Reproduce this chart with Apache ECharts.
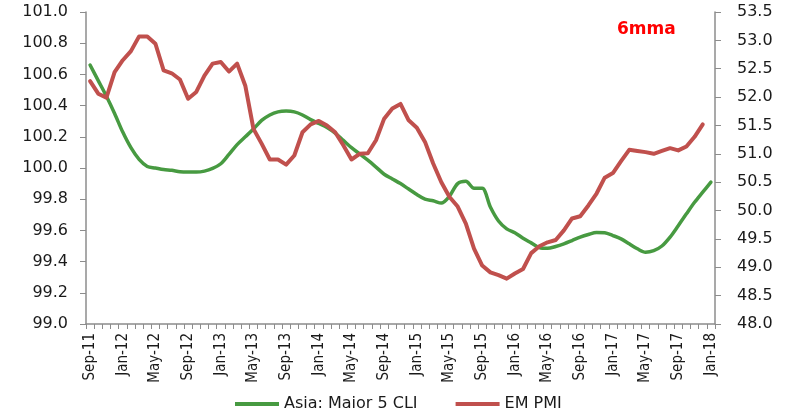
<!DOCTYPE html>
<html>
<head>
<meta charset="utf-8">
<script src="https://cdn.jsdelivr.net/npm/echarts@6/dist/echarts.min.js"></script>
<style>
html, body { margin: 0; padding: 0; background: #fff; }
#main { width: 788px; height: 408px; }
</style>
</head>
<body>
<div id="main"></div>
<script>
// months Sep-11 .. Jan-18
var months = [
	'Sep-11', 'Oct-11', 'Nov-11', 'Dec-11',
	'Jan-12', 'Feb-12', 'Mar-12', 'Apr-12', 'May-12', 'Jun-12', 'Jul-12', 'Aug-12', 'Sep-12', 'Oct-12', 'Nov-12', 'Dec-12',
	'Jan-13', 'Feb-13', 'Mar-13', 'Apr-13', 'May-13', 'Jun-13', 'Jul-13', 'Aug-13', 'Sep-13', 'Oct-13', 'Nov-13', 'Dec-13',
	'Jan-14', 'Feb-14', 'Mar-14', 'Apr-14', 'May-14', 'Jun-14', 'Jul-14', 'Aug-14', 'Sep-14', 'Oct-14', 'Nov-14', 'Dec-14',
	'Jan-15', 'Feb-15', 'Mar-15', 'Apr-15', 'May-15', 'Jun-15', 'Jul-15', 'Aug-15', 'Sep-15', 'Oct-15', 'Nov-15', 'Dec-15',
	'Jan-16', 'Feb-16', 'Mar-16', 'Apr-16', 'May-16', 'Jun-16', 'Jul-16', 'Aug-16', 'Sep-16', 'Oct-16', 'Nov-16', 'Dec-16',
	'Jan-17', 'Feb-17', 'Mar-17', 'Apr-17', 'May-17', 'Jun-17', 'Jul-17', 'Aug-17', 'Sep-17', 'Oct-17', 'Nov-17', 'Dec-17',
	'Jan-18'
];

// Asia: Major 5 CLI (left axis)
var asiaCli = [
	100.66, 100.56, 100.46, 100.35, 100.23, 100.13, 100.055, 100.01, 100.00, 99.99, 99.985, 99.976,
	99.974, 99.974, 99.98, 99.997, 100.027, 100.087, 100.15, 100.20, 100.25, 100.305, 100.34, 100.36,
	100.365, 100.36, 100.34, 100.31, 100.285, 100.26, 100.224, 100.177, 100.13, 100.09, 100.05, 100.006,
	99.96, 99.93, 99.90, 99.865, 99.83, 99.80, 99.79, 99.775, 99.82, 99.90, 99.915, 99.87,
	99.87, 99.75, 99.66, 99.61, 99.585, 99.55, 99.52, 99.49, 99.485, 99.497, 99.514, 99.535,
	99.557, 99.574, 99.587, 99.585, 99.567, 99.546, 99.514, 99.482, 99.46, 99.47, 99.50, 99.557,
	99.63, 99.706, 99.78, 99.845, 99.91
];

// EM PMI (right axis)
var emPmi = [
	52.28, 52.06, 51.99, 52.44, 52.65, 52.81, 53.07, 53.07, 52.94, 52.47, 52.42, 52.31,
	51.97, 52.09, 52.38, 52.59, 52.62, 52.45, 52.59, 52.20, 51.44, 51.18, 50.90, 50.90,
	50.81, 50.97, 51.38, 51.52, 51.58, 51.50, 51.38, 51.15, 50.90, 51.00, 51.01, 51.24,
	51.62, 51.80, 51.88, 51.59, 51.46, 51.21, 50.83, 50.50, 50.24, 50.07, 49.77, 49.33,
	49.03, 48.91, 48.86, 48.80, 48.89, 48.97, 49.25, 49.37, 49.44, 49.48, 49.65, 49.86,
	49.90, 50.09, 50.30, 50.58, 50.66, 50.87, 51.07, 51.05, 51.03, 51.00, 51.05, 51.10,
	51.06, 51.13, 51.30, 51.52, null
];

var seriesNames = ['Asia: Major 5 CLI', 'EM PMI'];
var note = '6mma';

var myChart = echarts.init(document.getElementById('main'));

var axisFont = 'DejaVu Sans, Verdana, sans-serif';
var axisGray = '#8c8c8c';

option = {
	animation: false,
	color: ['#479a41', '#c0504d'],
	grid: {
		left: 86,
		right: 73,
		top: 12,
		bottom: 84
	},
	legend: {
		data: seriesNames,
		left: 230,
		top: 391,
		icon: 'rect',
		itemWidth: 44,
		itemHeight: 4,
		itemGap: 38,
		textStyle: {
			fontFamily: axisFont,
			fontSize: 16,
			color: '#1a1a1a'
		}
	},
	graphic: [{
		type: 'text',
		left: 617,
		top: 21,
		style: {
			text: note,
			fill: '#ff0000',
			font: 'bold 17px DejaVu Sans, Verdana, sans-serif'
		}
	}],
	xAxis: [{
		type: 'category',
		boundaryGap: true,
		data: months,
		axisLine: {
			lineStyle: { color: axisGray, width: 1.5 }
		},
		axisTick: {
			show: true,
			interval: 0,
			length: 5,
			lineStyle: { color: axisGray }
		},
		axisLabel: {
			interval: 3,
			rotate: 90,
			margin: 9,
			color: '#1a1a1a',
			fontSize: 15,
			fontFamily: '"Liberation Sans Narrow", "DejaVu Sans Condensed", sans-serif'
		},
		splitLine: { show: false }
	}],
	yAxis: [{
		type: 'value',
		position: 'left',
		min: 99,
		max: 101,
		interval: 0.2,
		axisLine: {
			show: true,
			lineStyle: { color: axisGray, width: 1.5 }
		},
		axisTick: {
			show: true,
			length: 6,
			lineStyle: { color: axisGray }
		},
		axisLabel: {
			margin: 18,
			color: '#1a1a1a',
			fontSize: 16,
			fontFamily: axisFont,
			formatter: function (v) { return v.toFixed(1); }
		},
		splitLine: { show: false }
	}, {
		type: 'value',
		position: 'right',
		min: 48,
		max: 53.5,
		interval: 0.5,
		axisLine: {
			show: true,
			lineStyle: { color: axisGray, width: 1.5 }
		},
		axisTick: {
			show: true,
			length: 6,
			lineStyle: { color: axisGray }
		},
		axisLabel: {
			margin: 22,
			color: '#1a1a1a',
			fontSize: 16,
			fontFamily: axisFont,
			formatter: function (v) { return v.toFixed(1); }
		},
		splitLine: { show: false }
	}],
	series: [{
		name: seriesNames[0],
		type: 'line',
		yAxisIndex: 0,
		symbol: 'none',
		smooth: 0.3,
		lineStyle: { width: 3.5, cap: 'round' },
		data: asiaCli
	}, {
		name: seriesNames[1],
		type: 'line',
		yAxisIndex: 1,
		symbol: 'none',
		lineStyle: { width: 4, cap: 'round', join: 'round' },
		data: emPmi
	}]
};

myChart.setOption(option);
</script>
</body>
</html>
